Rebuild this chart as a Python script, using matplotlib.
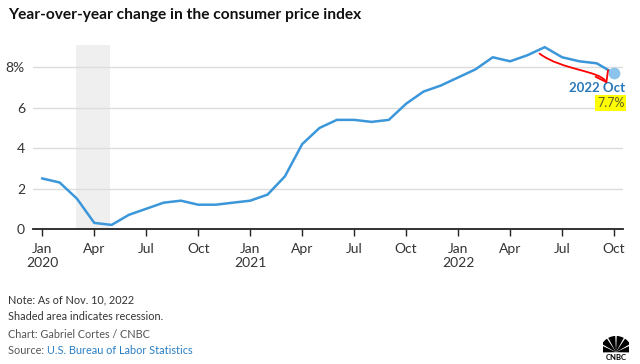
import numpy as np
import matplotlib.pyplot as plt
from matplotlib.patches import Wedge, FancyArrowPatch
from matplotlib.path import Path

plt.rcParams['font.family'] = ['Lato', 'DejaVu Sans']

# monthly year-over-year CPI change, Jan 2020 .. Oct 2022
months = ['Jan', 'Feb', 'Mar', 'Apr', 'May', 'Jun', 'Jul', 'Aug', 'Sep', 'Oct', 'Nov', 'Dec']
cpi_2020 = [2.5, 2.3, 1.5, 0.3, 0.2, 0.7, 1.0, 1.3, 1.4, 1.2, 1.2, 1.3]
cpi_2021 = [1.4, 1.7, 2.6, 4.2, 5.0, 5.4, 5.4, 5.3, 5.4, 6.2, 6.8, 7.1]
cpi_2022 = [7.5, 7.9, 8.5, 8.3, 8.6, 9.0, 8.5, 8.3, 8.2, 7.7]
values = cpi_2020 + cpi_2021 + cpi_2022

tick_pos = list(range(0, len(values), 3))
tick_labels = []
for p in tick_pos:
    m = months[p % 12]
    if m == 'Jan':
        m = m + '\n' + str(2020 + p // 12)
    tick_labels.append(m)

recession = (1.96, 3.92)
y_ticks = [0, 2, 4, 6, 8]
y_labels = ['0', '2', '4', '6', '8%']

# hand-drawn red arrow (start, two control points, tip)
arrow_pts = [(28.7, 8.68), (30.0, 7.85), (32.2, 7.85), (32.6, 7.2)]

blue = '#3b97da'

fig = plt.figure(figsize=(6.4, 3.64), dpi=100)
ax = fig.add_axes([0.052, 0.371, 0.921, 0.505])
x = np.arange(len(values))

ax.axvspan(recession[0], recession[1], color='#efefef', lw=0, zorder=0)
ax.plot(x, values, color=blue, lw=1.8, zorder=3, solid_joinstyle='round')
ax.scatter([x[-1]], [values[-1]], s=72, color='#8cc3ea', zorder=4, lw=0)

ax.set_xlim(-0.52, 33.5)
ax.set_ylim(0, 9.1)
ax.set_yticks(y_ticks)
ax.set_yticklabels(y_labels)
ax.set_xticks(tick_pos)
ax.set_xticklabels(tick_labels)
ax.grid(axis='y', color='#dcdcdc', lw=1)
ax.set_axisbelow(True)
for s in ['top', 'right', 'left']:
    ax.spines[s].set_visible(False)
ax.spines['bottom'].set_color('#222222')
ax.spines['bottom'].set_linewidth(1.3)
ax.tick_params(axis='y', length=0, pad=6, labelsize=10, labelcolor='#333333')
ax.tick_params(axis='x', length=5, width=1, color='#222222', pad=5,
               labelsize=10, labelcolor='#333333')

# annotation at the last point
ax.text(x[-1] + 0.64, values[-1] - 0.74, '2022 Oct', color='#2a78b8', fontsize=9.5,
        fontweight='bold', ha='right', va='center', clip_on=False)
ax.text(x[-1] + 0.6, values[-1] - 1.48, '7.7%', color='#5f5f2a', fontsize=9,
        ha='right', va='center', clip_on=False,
        bbox=dict(boxstyle='square,pad=0.15', fc='#ffff00', ec='none'))
arrow_path = Path(arrow_pts, [Path.MOVETO, Path.CURVE4, Path.CURVE4, Path.CURVE4])
ax.add_patch(FancyArrowPatch(path=arrow_path, arrowstyle='->,head_length=7,head_width=5',
                             color='red', lw=1.3, zorder=5))

fig.text(0.0125, 0.958, 'Year-over-year change in the consumer price index',
         fontsize=11.2, fontweight='bold', color='#111111', va='center')

foot = 7.8
fig.text(0.0125, 0.175, 'Note: As of Nov. 10, 2022', fontsize=foot, color='#333333', va='center')
fig.text(0.0125, 0.130, 'Shaded area indicates recession.', fontsize=foot, color='#333333', va='center')
fig.text(0.0125, 0.082, 'Chart: Gabriel Cortes / CNBC', fontsize=foot, color='#555555', va='center')
t = fig.text(0.0125, 0.038, 'Source: ', fontsize=foot, color='#555555', va='center')
fig.canvas.draw()
bb = t.get_window_extent()
fig.text(bb.x1 / fig.bbox.width, 0.038, 'U.S. Bureau of Labor Statistics',
         fontsize=foot, color='#2a7fc4', va='center')

# CNBC logo
lax = fig.add_axes([603 / 640, 4 / 364, 26 / 640, 26 / 364])
lax.set_xlim(-1, 1)
lax.set_ylim(-1, 1)
lax.set_axis_off()
for a in np.linspace(12, 168, 6):
    lax.add_patch(Wedge((0, -0.4), 1.25, a - 13, a + 13, color='black', lw=0))
lax.text(0, -0.78, 'CNBC', fontsize=5.5, fontweight='bold', ha='center', va='center')

fig.savefig('out.png', dpi=100)
